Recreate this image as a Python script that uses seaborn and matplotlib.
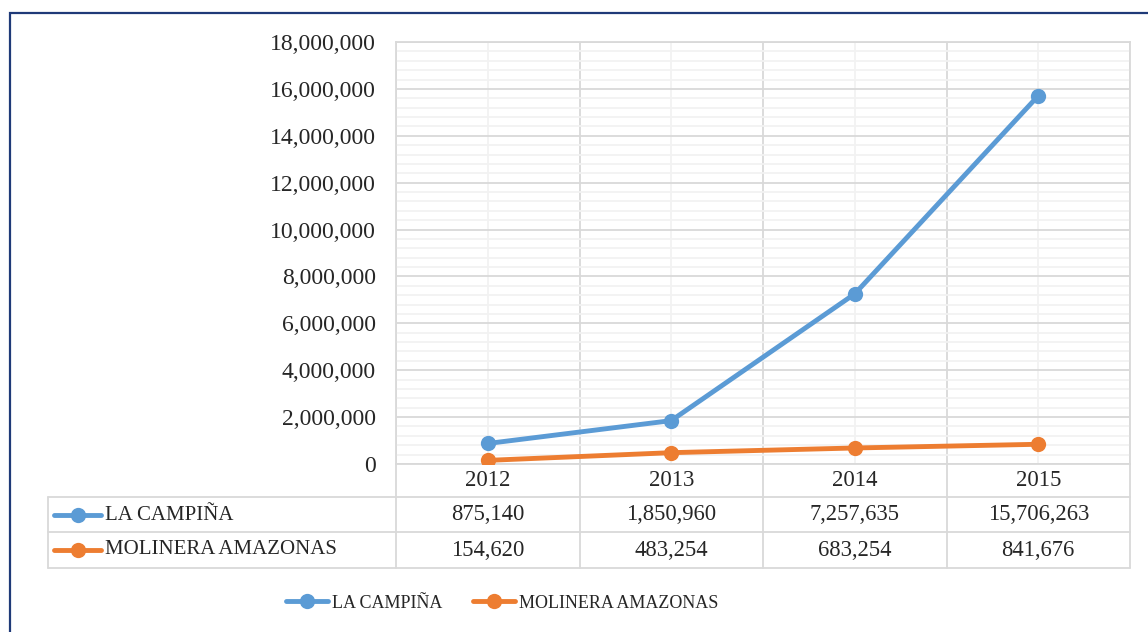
import matplotlib
matplotlib.use("Agg")
import matplotlib.pyplot as plt
import matplotlib.transforms as mtransforms
from matplotlib.lines import Line2D
from matplotlib.patches import Rectangle
from matplotlib.ticker import MultipleLocator, FuncFormatter
import seaborn as sns
import pandas as pd

years = ["2012", "2013", "2014", "2015"]
series_names = ["LA CAMPIÑA", "MOLINERA AMAZONAS"]
la_campina = [875140, 1850960, 7257635, 15706263]
molinera = [154620, 483254, 683254, 841676]
colors = ["#5B9BD5", "#ED7D31"]

sns.set_style("white")
plt.rcParams["font.family"] = ["Liberation Serif", "DejaVu Serif"]

W, H = 1148, 632
fig = plt.figure(figsize=(W / 100, H / 100), dpi=100)
L, R, T, B = 396, 1130, 42, 464
ax = fig.add_axes([L / W, 1 - B / H, (R - L) / W, (B - T) / H])

rows = []
for name, vals in zip(series_names, [la_campina, molinera]):
    for i, (y, v) in enumerate(zip(years, vals)):
        rows.append({"idx": i, "year": y, "value": v, "series": name})
df = pd.DataFrame(rows)

LW, MS = 3.5, 11
sns.lineplot(data=df, x="idx", y="value", hue="series", hue_order=series_names,
             palette=colors, marker="o", markersize=MS, markeredgewidth=0,
             linewidth=LW, legend=False, ax=ax, zorder=3)

ax.set_xlim(-0.5, len(years) - 0.5)
ax.set_ylim(0, 18000000)
ax.yaxis.set_major_locator(MultipleLocator(2000000))
ax.yaxis.set_minor_locator(MultipleLocator(400000))
ax.yaxis.set_major_formatter(FuncFormatter(lambda v, p: f"{int(v):,}"))
ax.set_xticks([i - 0.5 for i in range(len(years) + 1)])
ax.set_xticks(range(len(years)), minor=True)
ax.set_xticklabels([])
ax.tick_params(axis="x", which="both", length=0)
ax.tick_params(axis="y", which="both", length=0, labelsize=17, pad=14.5)
ax.grid(which="major", color="#D9D9D9", linewidth=1.3)
ax.grid(which="minor", color="#F2F2F2", linewidth=1.3)
ax.set_xlabel("")
ax.set_ylabel("")
for s in ax.spines.values():
    s.set_color("#D9D9D9")
    s.set_linewidth(1.3)

# data table
blend = mtransforms.blended_transform_factory(ax.transData, fig.transFigure)
def fy(py):
    return 1 - py / H
def fx(px):
    return px / W

tcol = "#D9D9D9"
y_rows = [464, 497, 532, 568]
for py in y_rows[1:]:
    fig.add_artist(Line2D([fx(48), fx(R)], [fy(py), fy(py)], color=tcol, lw=1.3))
fig.add_artist(Line2D([fx(48), fx(48)], [fy(497), fy(568)], color=tcol, lw=1.3))
for k in range(len(years) + 1):
    fig.add_artist(Line2D([k - 0.5, k - 0.5], [fy(464), fy(568)], color=tcol,
                          lw=1.3, transform=blend))

for i, y in enumerate(years):
    ax.text(i, fy(481), y, transform=blend, ha="center", va="center", fontsize=16.5)

row_centers = [515, 550]
for name, vals, c, pyc in zip(series_names, [la_campina, molinera], colors, row_centers):
    for i, v in enumerate(vals):
        ax.text(i, fy(pyc), f"{v:,}", transform=blend, ha="center", va="center",
                fontsize=16.3)
    fig.add_artist(Line2D([fx(54), fx(101)], [fy(pyc), fy(pyc)], color=c, lw=LW,
                          solid_capstyle="round"))
    fig.add_artist(Line2D([fx(77.5)], [fy(pyc)], color=c, marker="o", markersize=MS,
                          markeredgewidth=0))
    fig.text(fx(105), fy(pyc), name, ha="left", va="center", fontsize=15)

# bottom legend
handles = [Line2D([0], [0], color=c, lw=LW, marker="o", markersize=MS,
                  markeredgewidth=0, solid_capstyle="round") for c in colors]
fig.legend(handles, series_names, loc="center", bbox_to_anchor=(fx(502), fy(603)),
           ncol=2, frameon=False, fontsize=13, handlelength=2.35, handletextpad=0.2,
           columnspacing=1.7)

# outer border
fig.add_artist(Rectangle((fx(9.5), fy(700)), 1.2, fy(12.5) - fy(700),
                         transform=fig.transFigure, fill=False,
                         edgecolor="#1F3A78", linewidth=1.6))

fig.savefig("out.png", dpi=100)
